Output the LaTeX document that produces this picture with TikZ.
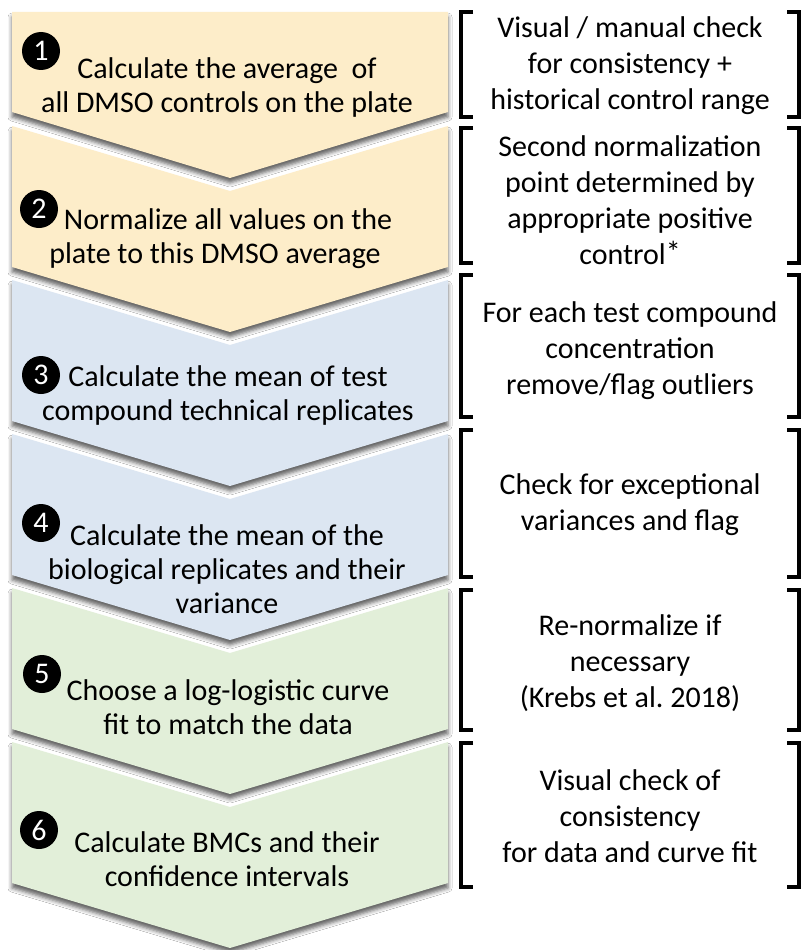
\documentclass[tikz,border=0pt]{standalone}
\usepackage{fontspec}
\setmainfont{Carlito}
\usetikzlibrary{shadows.blur}
\definecolor{cyel}{HTML}{FDEDC9}
\definecolor{cblu}{HTML}{DCE6F2}
\definecolor{cgrn}{HTML}{E2EFD9}
\tikzset{
  chev/.style={blur shadow={shadow xshift=0pt,shadow yshift=-5pt,shadow blur radius=4pt,shadow opacity=60}},
  num/.style={circle,fill=black,text=white,minimum size=38pt,inner sep=0pt,font=\fontsize{30}{30}\selectfont},
  ltxt/.style={align=center,font=\fontsize{30}{34}\selectfont,inner sep=0pt},
  rtxt/.style={align=center,font=\fontsize{30}{36}\selectfont,inner sep=0pt},
  brk/.style={line width=4pt,black,line join=miter},
}
\begin{document}
\frenchspacing
\begin{tikzpicture}[x=1pt,y=-1pt]
\useasboundingbox (0,0) rectangle (801,950);
\fill[white] (0,0) rectangle (801,950);
% chevrons
\path[chev,fill=cyel] (12,12) -- (448,12) -- (448,112) -- (230,178) -- (12,112) -- cycle;
\foreach \T/\c in {126/cyel,280/cblu,434/cblu,588/cgrn,742/cgrn}{
  \path[chev,fill=\c] (12,\T) -- (230,\T+65) -- (448,\T) -- (448,\T+141) -- (230,\T+206) -- (12,\T+141) -- cycle;
}
% step texts
\node[ltxt] (t1) at (227,88) {Calculate the average\ \ of\\all DMSO controls on the plate};
\node[ltxt] (t2) at (228,239) {Normalize all values on the\\plate to this DMSO average\hspace*{26pt}};
\node[ltxt] (t3) at (228,395) {Calculate the mean of test\\compound technical replicates};
\node[ltxt] (t4) at (227,569) {Calculate the mean of the\\biological replicates and their\\variance};
\node[ltxt] (t5) at (228,707) {Choose a log-logistic curve\\fit to match the data};
\node[ltxt] (t6) at (227,859) {Calculate BMCs and their\\confidence intervals};
% numbers
\node[num] (n1) at (41,51) {1};
\node[num] (n2) at (39,209) {2};
\node[num] (n3) at (41,375) {3};
\node[num] (n4) at (41,523) {4};
\node[num] (n5) at (42,674) {5};
\node[num] (n6) at (39,830) {6};
% brackets
\foreach \a/\b in {12/117,128/263,275/417,430/577,590/730,743/887}{
  \draw[brk] (473,\a) -- (461,\a) -- (461,\b) -- (473,\b);
  \draw[brk] (787,\a) -- (799,\a) -- (799,\b) -- (787,\b);
}
% bracket texts
\node[rtxt] (r1) at (630,66) {Visual / manual check\\for consistency +\\historical control range};
\node[rtxt] (r2) at (630,200) {Second normalization\\point determined by\\appropriate positive\\control\raisebox{2pt}{*}};
\node[rtxt] (r3) at (630,351) {For each test compound\\concentration\\remove/flag outliers};
\node[rtxt] (r4) at (630,505) {Check for exceptional\\variances and flag};
\node[rtxt] (r5) at (630,663) {Re-normalize if\\necessary\\(Krebs et al. 2018)};
\node[rtxt] (r6) at (630,816) {Visual check of\\consistency\\for data and curve fit};
\end{tikzpicture}
\end{document}
